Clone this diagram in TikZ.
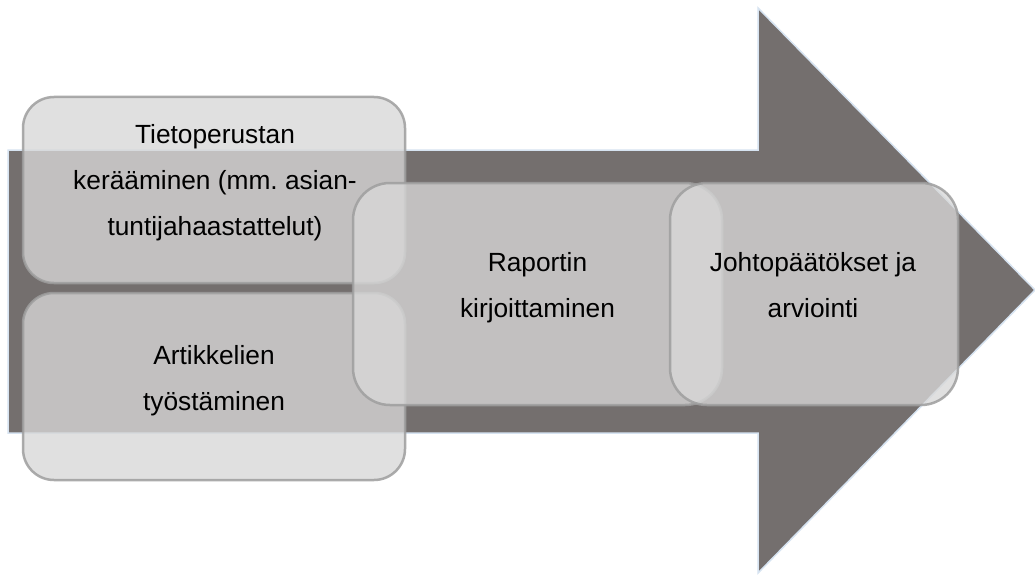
\documentclass[tikz,border=0pt]{standalone}
\usepackage{fontspec}
\setmainfont{Liberation Sans}
\definecolor{arrowfill}{HTML}{746F6E}
\definecolor{arrowline}{HTML}{D6E3F1}
\definecolor{boxfill}{HTML}{D8D8D8}
\definecolor{boxline}{HTML}{9E9E9E}
\begin{document}
\begin{tikzpicture}[x=1pt,y=-1pt,
  bigarrow/.style={fill=arrowfill,draw=arrowline,line width=1.5pt,line join=miter},
  stage/.style={rectangle,fill=boxfill,draw=boxline,fill opacity=0.78,draw opacity=0.85,line width=2.5pt,inner sep=0pt},
  stagetext/.style={align=center,font=\fontsize{26.3}{46}\selectfont,text=black,inner sep=0pt}]
\useasboundingbox (0,0) rectangle (1035,575);
\fill[white] (0,0) rectangle (1035,575);
% big arrow
\draw[bigarrow] (8,150) -- (758,150) -- (758,8) -- (1035,290) -- (758,573) -- (758,433) -- (8,433) -- cycle;
% boxes
\node[stage,minimum width=382pt,minimum height=186pt,rounded corners=31pt] (b1) at (214,190) {};
\node[stage,minimum width=382pt,minimum height=187pt,rounded corners=31pt] (b2) at (214,386.5) {};
\node[stage,minimum width=369pt,minimum height=222pt,rounded corners=37pt] (b3) at (537.5,294) {};
\node[stage,minimum width=288pt,minimum height=222pt,rounded corners=37pt] (b4) at (814,294) {};
% texts
\node[stagetext] (t1) at (215,182.5) {Tietoperustan\\kerääminen (mm.\ asian-\\tuntijahaastattelut)};
\node[stagetext] (t2) at (214,381) {Artikkelien\\työstäminen};
\node[stagetext] (t3) at (537.5,288) {Raportin\\kirjoittaminen};
\node[stagetext] (t4) at (813,285.5) {Johtopäätökset ja\\arviointi};
\end{tikzpicture}
\end{document}
